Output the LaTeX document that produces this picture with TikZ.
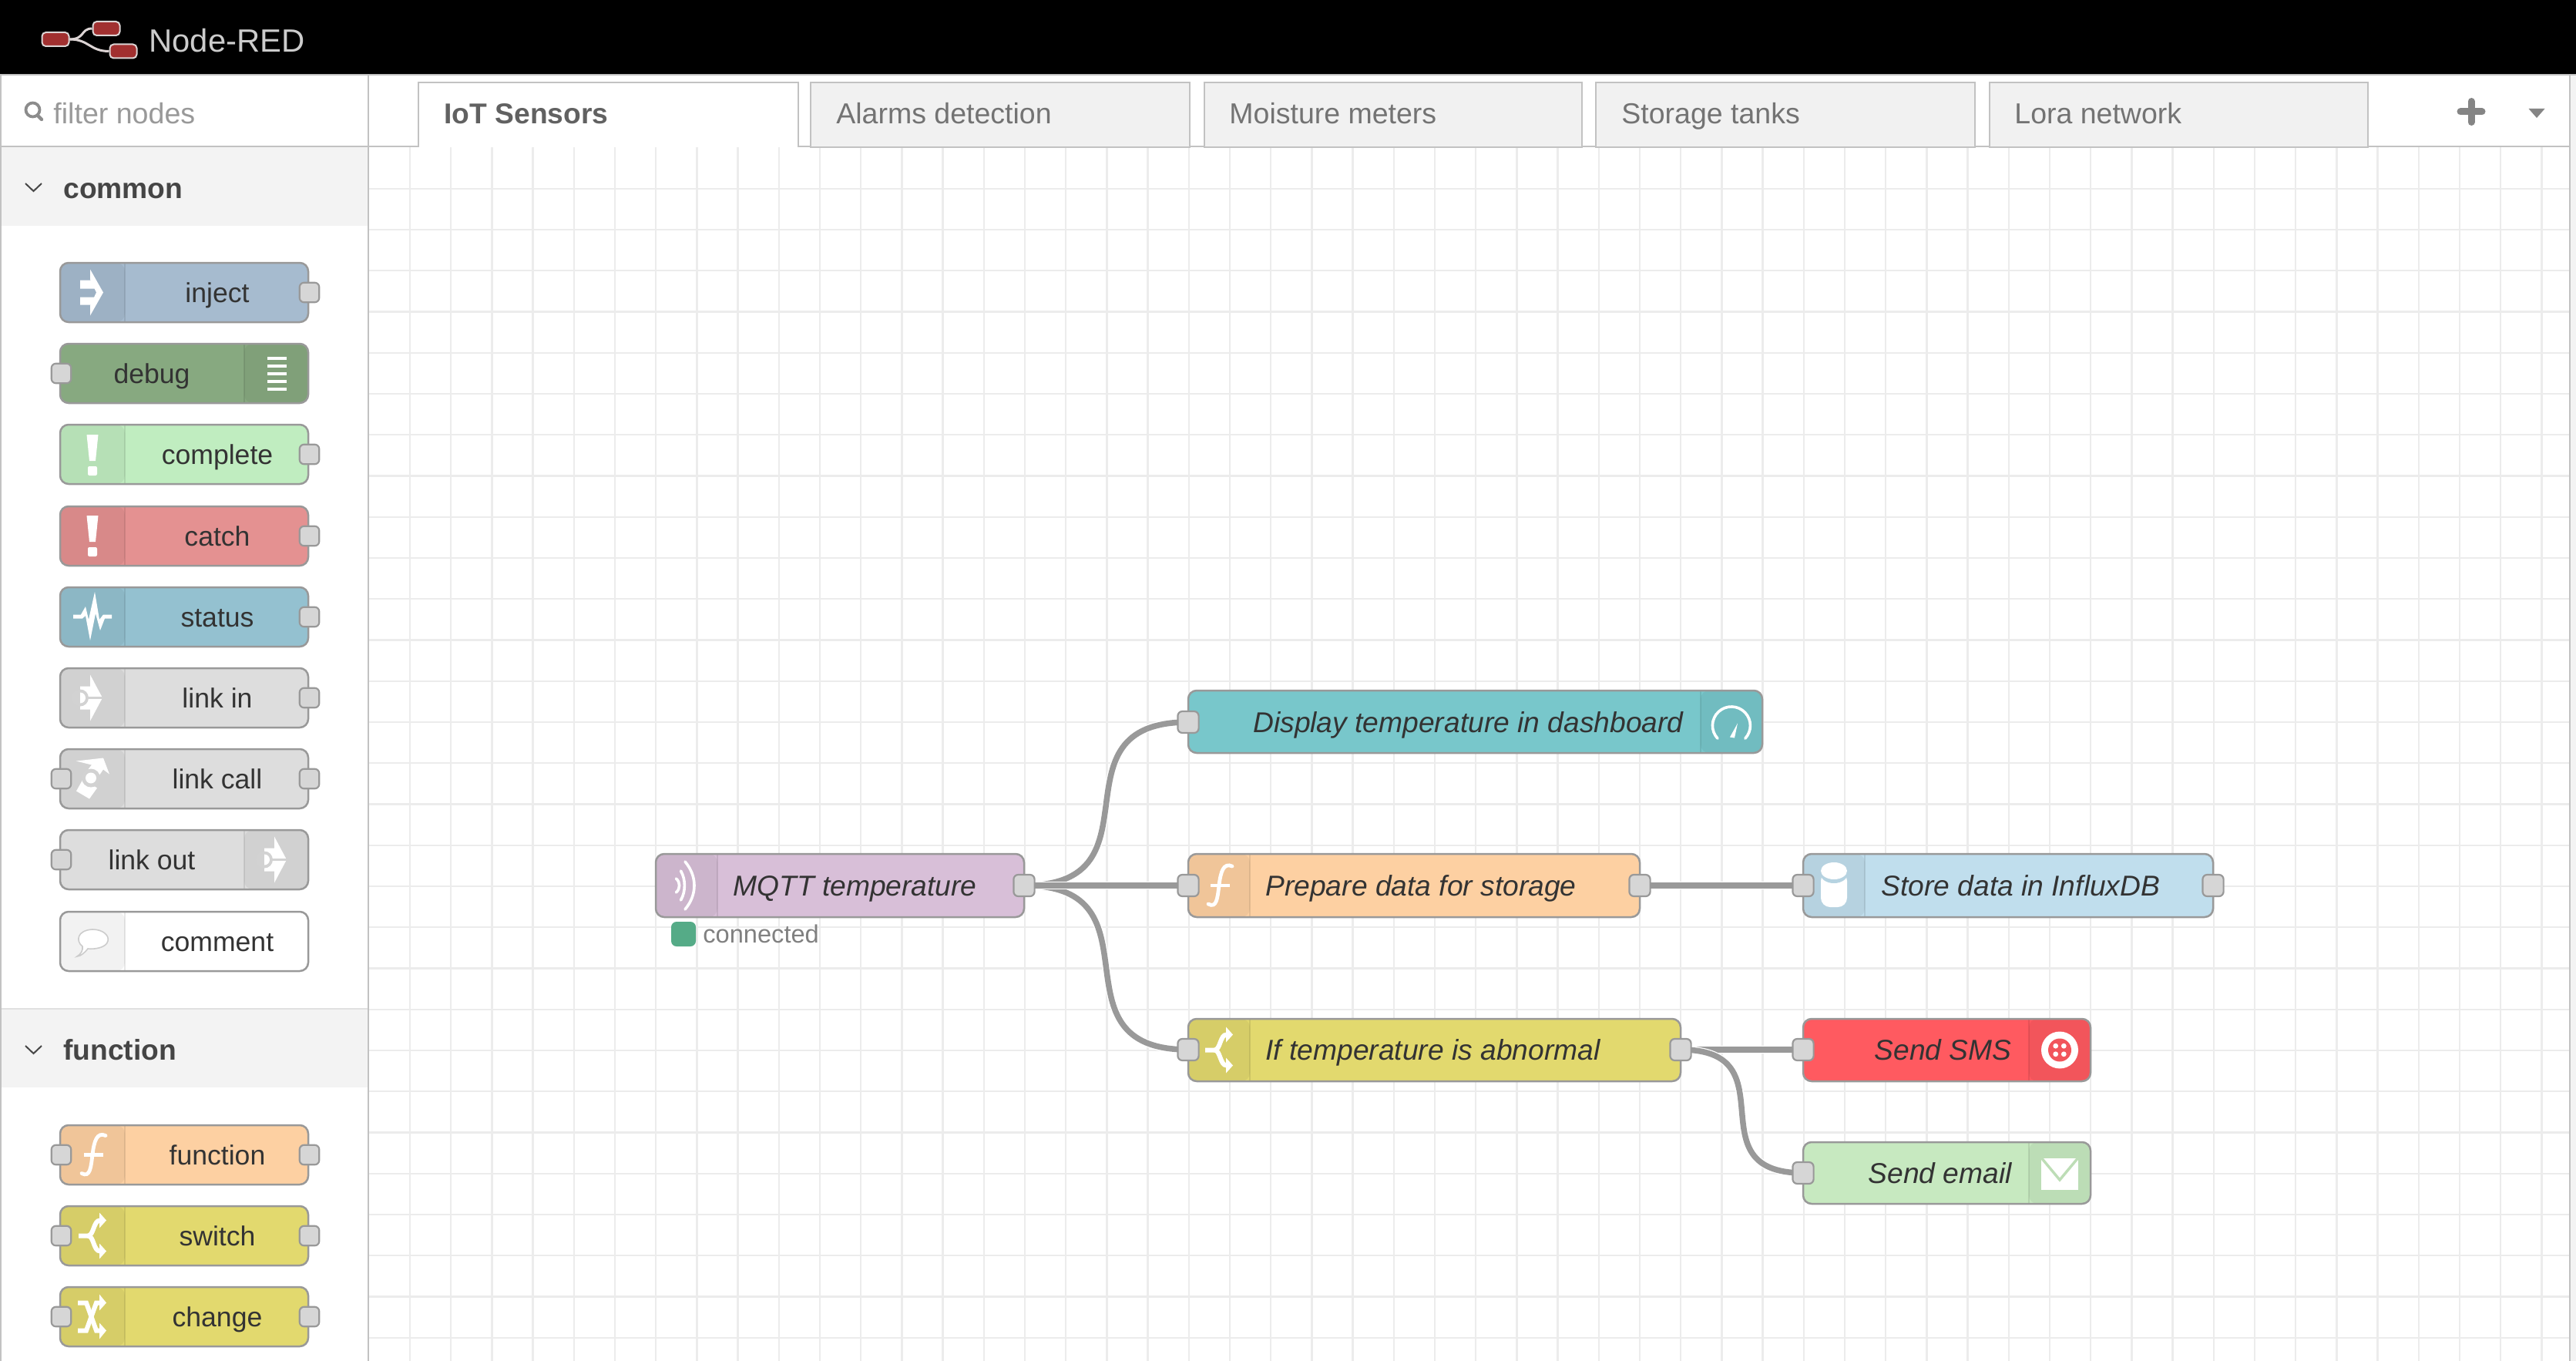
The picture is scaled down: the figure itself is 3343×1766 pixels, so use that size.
\documentclass[tikz,border=0pt]{standalone}
\usepackage{fontspec}
\setmainfont{Liberation Sans}
\pgfdeclarelayer{bg}\pgfdeclarelayer{wires}
\pgfsetlayers{bg,wires,main}
\definecolor{wiregray}{HTML}{999999}
\definecolor{gridc}{HTML}{ECECEC}
\definecolor{chromeline}{HTML}{C2C2C2}
\definecolor{panel}{HTML}{F3F3F3}
\definecolor{tabfill}{HTML}{F1F1F1}
\definecolor{txt}{HTML}{333333}
\definecolor{cinject}{HTML}{A6BBCF}
\definecolor{cdebug}{HTML}{87A980}
\definecolor{ccomplete}{HTML}{C0EDC0}
\definecolor{ccatch}{HTML}{E49191}
\definecolor{cstatus}{HTML}{94C1D0}
\definecolor{clink}{HTML}{DDDDDD}
\definecolor{clinksec}{HTML}{D2D2D2}
\definecolor{cfunc}{HTML}{FDD0A2}
\definecolor{cswitch}{HTML}{E2D96E}
\definecolor{cmqtt}{HTML}{D8BFD8}
\definecolor{cdash}{HTML}{78C7CB}
\definecolor{cstore}{HTML}{C0DEED}
\definecolor{cstoresec}{HTML}{B6D3E1}
\definecolor{csms}{HTML}{FF5A60}
\definecolor{csmssec}{HTML}{F2555B}
\definecolor{cmail}{HTML}{C7E9C0}
\definecolor{cmailsec}{HTML}{BDDDB6}
\definecolor{logored}{HTML}{A13030}
\definecolor{logoline}{HTML}{DCD4D4}
\definecolor{dotgreen}{HTML}{55AB87}
\tikzset{
  x=0.5pt,y=-0.5pt,
  nodebox/.style={rectangle,draw=wiregray,line width=1.25pt,rounded corners=5.5pt,inner sep=0pt},
  iconleft/.style={path picture={
    \fill[black,opacity=.05] (path picture bounding box.north west) rectangle ([xshift=#1*0.5pt]path picture bounding box.south west);
    \draw[black,opacity=.09,line width=1pt] ([xshift=#1*0.5pt]path picture bounding box.north west) -- ([xshift=#1*0.5pt]path picture bounding box.south west);}},
  iconright/.style={path picture={
    \fill[black,opacity=.05] (path picture bounding box.north east) rectangle ([xshift=-#1*0.5pt]path picture bounding box.south east);
    \draw[black,opacity=.09,line width=1pt] ([xshift=-#1*0.5pt]path picture bounding box.north east) -- ([xshift=-#1*0.5pt]path picture bounding box.south east);}},
  noicon/.style={},
  pport/.style={rectangle,draw=wiregray,fill=clink!97!black,line width=1.1pt,rounded corners=3pt,inner sep=0pt,minimum width=12.8pt,minimum height=12.8pt},
  fport/.style={pport,minimum width=13.6pt,minimum height=14pt},
  pallabel/.style={anchor=base,inner sep=0pt,text=txt,font=\fontsize{17.8}{20}\selectfont},
  flowlabel/.style={inner sep=0pt,text=txt,font=\fontsize{18.6}{20}\selectfont\itshape},
  wire/.style={draw=wiregray,line width=3.75pt,preaction={draw=white,line width=5pt}},
  tabbox/.style={rectangle,draw=chromeline,line width=1pt,fill=tabfill,inner sep=0pt},
  tablabel/.style={anchor=base west,inner sep=0pt,text=gray!90!black,font=\fontsize{18.75}{20}\selectfont},
  headlabel/.style={anchor=base west,inner sep=0pt,text=black!73,font=\fontsize{18.6}{20}\selectfont\bfseries},
  iconstroke/.style={draw=white,line width=#1},
  logobox/.style={rectangle,draw=logoline,fill=logored,line width=1pt,rounded corners=2.5pt,inner sep=0pt,minimum width=17.5pt,minimum height=9pt},
}
% palette node: name, top y, fill, section style, label centre x, label
\newcommand\palnode[6]{%
  \node[nodebox,fill=#3,#4,minimum width=161pt,minimum height=38.5pt] (#1) at (239,#2+38.5) {};
  \node[pallabel] (#1-l) at (#5,#2+51.5) {#6};}
\newcommand\palin[2]{\node[pport] (#1-in) at (79.5,#2+38.5) {};}
\newcommand\palout[2]{\node[pport] (#1-out) at (401.5,#2+38.5) {};}
% flow node: name, x1, y1, x2, y2, fill, section style
\newcommand\flownode[7]{%
  \node[nodebox,fill=#6,#7,minimum width={(#4-#2)*0.5pt},minimum height={(#5-#3)*0.5pt}] (#1) at ({(#2+#4)/2},{(#3+#5)/2}) {};}
% icons, in px around the centre of the icon section
\newcommand\iconat[3]{\begin{scope}[shift={(#1,#2)}]#3\end{scope}}
\newcommand\icinject{%
  \fill[white] (-16,-16) rectangle (4,-5) (-16,6) rectangle (4,16);
  \fill[white] (-3,-30) -- (14,0) -- (-3,30) -- (-3,17) -- (5,0) -- (-3,-17) -- cycle;}
\newcommand\icbang{%
  \fill[white] (-7.5,-26) -- (7.5,-26) -- (4,8) -- (-4,8) -- cycle;
  \fill[white,rounded corners=1pt] (-6,15) rectangle (6,27);}
\newcommand\icdebug{%
  \foreach \yy in {-20,-10,0,10,20}{\fill[white] (-12.5,\yy-1.8) rectangle (12.5,\yy+1.8);}}
\newcommand\icstatus{%
  \fill[white] (-25,-2.5) -- (-15,-2.5) -- (-9,-13) -- (-5,4) -- (3,-32) -- (9,4) -- (14,-2.5) -- (25,-2.5) -- (25,2.5) -- (16,2.5) -- (10,18) -- (4,-4) -- (-3,31) -- (-9,-1) -- (-13,2.5) -- (-25,2.5) -- cycle;}
\newcommand\iclink{%
  \fill[white] (-16,-15) -- (-3,-15) -- (-3,-30) -- (13,0) -- (-3,30) -- (-3,15) -- (-16,15) -- cycle;
  \fill[clinksec] (-16,0) circle[radius=11];
  \fill[clinksec] (-6,-1.2) rectangle (14,1.2);
  \fill[white] (-16,-7) arc[start angle=-90,end angle=90,radius=7] -- cycle;}
\newcommand\iccall{%
  \fill[white] (-21,-23) -- (14,-27) -- (22,-6) -- (14,-12) -- (3,4) -- (-9,-8) -- (-1,-18) -- cycle;
  \fill[white] (-21,16) -- (-12,0) -- (6,12) -- (-4,26) -- cycle;
  \fill[clinksec] (-2,-1) circle[radius=12];
  \fill[white] (-2,-1) circle[radius=7];}
\newcommand\iccomment{%
  \draw[draw=black!20,fill=white,line width=0.8pt] (-13,7) .. controls (-22,0) and (-20,-14) .. (0,-15) .. controls (14,-15) and (22,-7) .. (20,0) .. controls (18,9) and (2,11) .. (-6,10) .. controls (-9,14) and (-15,20) .. (-20,20) .. controls (-15,17) and (-12,12) .. cycle;}
\newcommand\icfunc{%
  \draw[iconstroke=2.4pt,line cap=round] (17,-25) .. controls (6,-30) and (2,-18) .. (0,0) .. controls (-2,16) and (-3,30) .. (-14,24);
  \draw[iconstroke=2.2pt] (-11,0) -- (14,0);}
\newcommand\icswitch{%
  \draw[iconstroke=3pt] (-18,0) -- (-6,0) .. controls (2,0) and (1,-20) .. (10,-20);
  \draw[iconstroke=3pt] (-6,0) .. controls (2,0) and (1,20) .. (10,20);
  \fill[white] (9,-30) -- (18,-20) -- (9,-10) -- cycle (9,30) -- (18,20) -- (9,10) -- cycle;}
\newcommand\icchange{%
  \draw[iconstroke=3pt] (-19,-18) -- (-8,-18) -- (5,18) -- (10,18);
  \draw[iconstroke=3pt] (-19,18) -- (-8,18) -- (5,-18) -- (10,-18);
  \fill[white] (9,-29) -- (18,-18) -- (9,-8) -- cycle (9,29) -- (18,18) -- (9,8) -- cycle;}
\newcommand\icmqtt{%
  \draw[iconstroke=1.8pt,line cap=round] (-1,-31) .. controls (15,-12) and (15,12) .. (-1,31);
  \draw[iconstroke=1.8pt,line cap=round] (-6.5,-19) .. controls (0,-8) and (0,8) .. (-6.5,19);
  \draw[iconstroke=1.8pt,line cap=round] (-12.5,-9) .. controls (-7,-4) and (-7,4) .. (-12.5,9);}
\newcommand\icgauge{%
  \draw[iconstroke=1.8pt,line cap=round] (-18,21.7) arc[start angle=137,end angle=403,radius=24.5];
  \fill[white] (8,2) -- (-2,20) -- (4,21) -- cycle;}
\newcommand\icdb{%
  \fill[white,rounded corners=6pt] (-17,-18) rectangle (17,28);
  \fill[cstoresec] (0,-14) ellipse[x radius=17,y radius=11];
  \fill[white] (0,-19) ellipse[x radius=17,y radius=11];}
\newcommand\ictwilio{%
  \fill[white] (0,0) circle[radius=24];
  \fill[csmssec] (0,0) circle[radius=15];
  \foreach \aa/\bb in {-5.3/-5.3,5.3/-5.3,-5.3/5.3,5.3/5.3}{\fill[white] (\aa,\bb) circle[radius=3.4];}}
\newcommand\icmail{%
  \fill[white] (-24,-19) rectangle (24,22);
  \draw[draw=cmailsec,line width=1.7pt] (-25,-21) -- (0,9) -- (25,-21);}
\begin{document}
\begin{tikzpicture}
\useasboundingbox (0,0) rectangle (3343,1766);
\begin{pgfonlayer}{bg}
  \fill[white] (0,0) rectangle (3343,1766);
  % grid
  \foreach \k in {0,...,52}{\draw[gridc,line width=1.15pt] ({532+53.2*\k},191) -- ({532+53.2*\k},1766);}
  \foreach \k in {-13,...,15}{\draw[gridc,line width=1.15pt] (478,{937+53.25*\k}) -- (3335,{937+53.25*\k});}
  % chrome
  \fill[black] (0,0) rectangle (3343,96);
  \fill[panel] (3335,98) rectangle (3343,1766);
  \draw[chromeline,line width=1pt] (0,97) -- (3343,97);
  \draw[chromeline,line width=1pt] (1,97) -- (1,1766);
  \draw[chromeline,line width=1.2pt] (478,97) -- (478,1766);
  \draw[chromeline,line width=1pt] (3335,97) -- (3335,1766);
  \fill[panel] (2,190) rectangle (477,293);
  \fill[panel] (2,1309) rectangle (477,1411);
  \draw[black!12,line width=1pt] (2,1309) -- (477,1309);
  \draw[chromeline,line width=1pt] (2,190) -- (478,190) (478,190) -- (543,190) (1036,190) -- (3335,190);
  % search icon and chevrons
  \draw[black!45,line width=1.9pt] (42.5,142.5) circle[radius=9];
  \draw[black!45,line width=2.2pt,line cap=round] (49,150) -- (54,155);
  \draw[black!72,line width=1pt] (33,238) -- (43.5,248) -- (54,238);
  \draw[black!72,line width=1pt] (33,1357) -- (43.5,1367) -- (54,1357);
  % plus and menu
  \draw[black!48,line width=4.5pt,line cap=round] (3193,145) -- (3221,145) (3207,131.5) -- (3207,158.5);
  \fill[black!48] (3281.5,141) -- (3302.5,141) -- (3292,153) -- cycle;
  % active tab
  \draw[chromeline,line width=1pt,fill=white] (543,191) -- (543,107) -- (1036,107) -- (1036,191);
\end{pgfonlayer}
% header
\node[logobox] (logoa) at (72,51) {};
\node[logobox] (logob) at (138,37) {};
\node[logobox] (logoc) at (160,66.5) {};
\node[anchor=base west,inner sep=0pt,text=black!20,font=\fontsize{20.9}{24}\selectfont] (brand) at (193,68) {Node-RED};
\node[anchor=base west,inner sep=0pt,text=black!40,font=\fontsize{18.8}{22}\selectfont] (filter) at (69,161) {filter nodes};
\node[headlabel] (hcommon) at (82,257) {common};
\node[headlabel] (hfunction) at (82,1375) {function};
% tabs
\node[tablabel,text=black!62,font=\fontsize{18.6}{20}\selectfont\bfseries] (tab1) at (576,161) {IoT Sensors};
\node[tabbox,minimum width=246pt,minimum height=42pt] (tab2b) at (1298,149) {};
\node[tabbox,minimum width=245pt,minimum height=42pt] (tab3b) at (1808,149) {};
\node[tabbox,minimum width=246pt,minimum height=42pt] (tab4b) at (2317,149) {};
\node[tabbox,minimum width=245.5pt,minimum height=42pt] (tab5b) at (2827.5,149) {};
\node[tablabel] (tab2) at (1085,161) {Alarms detection};
\node[tablabel] (tab3) at (1595,161) {Moisture meters};
\node[tablabel] (tab4) at (2104,161) {Storage tanks};
\node[tablabel] (tab5) at (2614,161) {Lora network};
% palette
\palnode{inject}{341}{cinject}{iconleft=84}{282}{inject}\iconat{120}{379.5}{\icinject}\palout{inject}{341}
\palnode{debug}{446}{cdebug}{iconright=83}{197}{debug}\iconat{359}{485}{\icdebug}\palin{debug}{446}
\palnode{complete}{551}{ccomplete}{iconleft=84}{282}{complete}\iconat{120}{590}{\icbang}\palout{complete}{551}
\palnode{catch}{657}{ccatch}{iconleft=84}{282}{catch}\iconat{120}{695}{\icbang}\palout{catch}{657}
\palnode{status}{762}{cstatus}{iconleft=84}{282}{status}\iconat{120}{800}{\icstatus}\palout{status}{762}
\palnode{linkin}{867}{clink}{iconleft=84}{282}{link in}\iconat{120}{905.5}{\iclink}\palout{linkin}{867}
\palnode{linkcall}{972}{clink}{iconleft=84}{282}{link call}\iconat{120}{1010.5}{\iccall}\palin{linkcall}{972}\palout{linkcall}{972}
\palnode{linkout}{1077}{clink}{iconright=83}{197}{link out}\iconat{359}{1115.5}{\iclink}\palin{linkout}{1077}
\palnode{comment}{1183}{white}{iconleft=84}{282}{comment}\iconat{120}{1221}{\iccomment}
\palnode{pfunction}{1460}{cfunc}{iconleft=84}{282}{function}\iconat{120}{1498.5}{\icfunc}\palin{pfunction}{1460}\palout{pfunction}{1460}
\palnode{pswitch}{1565}{cswitch}{iconleft=84}{282}{switch}\iconat{120}{1603.5}{\icswitch}\palin{pswitch}{1565}\palout{pswitch}{1565}
\palnode{pchange}{1670}{cswitch}{iconleft=84}{282}{change}\iconat{120}{1708.5}{\icchange}\palin{pchange}{1670}\palout{pchange}{1670}
% flow
\flownode{mqtt}{851}{1108}{1329}{1190}{cmqtt}{iconleft=80}
\flownode{disp}{1542}{896}{2287}{977}{cdash}{iconright=80}
\flownode{prep}{1542}{1108}{2128}{1190}{cfunc}{iconleft=80}
\flownode{store}{2340}{1108}{2872}{1190}{cstore}{iconleft=80}
\flownode{iff}{1542}{1322}{2181}{1403}{cswitch}{iconleft=80}
\flownode{sms}{2340}{1322}{2713}{1403}{csms}{iconright=80}
\flownode{email}{2340}{1482}{2713}{1562}{cmail}{iconright=80}
\iconat{890}{1149}{\icmqtt}
\iconat{2247}{936.5}{\icgauge}
\iconat{1582}{1149}{\icfunc}
\iconat{2380}{1149}{\icdb}
\iconat{1582}{1362.5}{\icswitch}
\iconat{2673}{1362.5}{\ictwilio}
\iconat{2673}{1522}{\icmail}
\node[flowlabel,anchor=base west] (mqtt-l) at (951,1162) {MQTT temperature};
\node[flowlabel,anchor=base east] (disp-l) at (2185,950) {Display temperature in dashboard};
\node[flowlabel,anchor=base west] (prep-l) at (1642,1162) {Prepare data for storage};
\node[flowlabel,anchor=base west] (store-l) at (2441,1162) {Store data in InfluxDB};
\node[flowlabel,anchor=base west] (iff-l) at (1642,1375) {If temperature is abnormal};
\node[flowlabel,anchor=base east] (sms-l) at (2611,1375) {Send SMS};
\node[flowlabel,anchor=base east] (email-l) at (2611,1535) {Send email};
\node[rectangle,fill=dotgreen,inner sep=0pt,rounded corners=3.5pt,minimum width=16pt,minimum height=16pt] (dot) at (887,1212) {};
\node[anchor=base west,inner sep=0pt,text=black!50,font=\fontsize{16.3}{18}\selectfont] (conn) at (912,1223) {connected};
\node[fport] (mqtt-out) at (1329,1149) {};
\node[fport] (disp-in) at (1542,937) {};
\node[fport] (prep-in) at (1542,1149) {};
\node[fport] (prep-out) at (2128,1149) {};
\node[fport] (store-in) at (2340,1149) {};
\node[fport] (store-out) at (2872,1149) {};
\node[fport] (iff-in) at (1542,1362) {};
\node[fport] (iff-out) at (2181,1362) {};
\node[fport] (sms-in) at (2340,1362) {};
\node[fport] (email-in) at (2340,1522) {};
\begin{pgfonlayer}{wires}
  \draw[logoline,line width=1.5pt] (logoa.east) .. controls +(20,0) and +(-15,0) .. (logob.west);
  \draw[logoline,line width=1.5pt] (logoa.east) .. controls +(25,0) and +(-25,0) .. (logoc.west);
  \draw[wire] (mqtt-out.center) .. controls +(185,0) and +(-185,0) .. (disp-in.center);
  \draw[wire] (mqtt-out.center) .. controls +(185,0) and +(-185,0) .. (iff-in.center);
  \draw[wire] (mqtt-out.center) -- (prep-in.center);
  \draw[wire] (prep-out.center) -- (store-in.center);
  \draw[wire] (iff-out.center) -- (sms-in.center);
  \draw[wire] (iff-out.center) .. controls +(145,0) and +(-145,0) .. (email-in.center);
\end{pgfonlayer}
\end{tikzpicture}
\end{document}
